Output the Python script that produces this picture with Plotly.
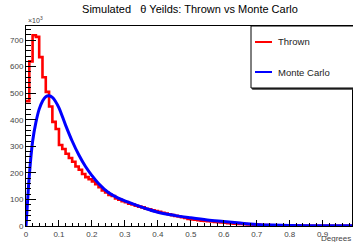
import plotly.graph_objects as go

# ---- data ----
bin_width = 0.01
thrown_counts = [470, 620, 718, 712, 636, 560, 505, 450, 392, 365,
                 305, 290, 272, 256, 242, 224, 212, 196, 184, 176,
                 168, 157, 146, 134, 126, 117, 113, 104, 99, 93,
                 90, 84, 81, 76, 73, 70, 65, 63, 59, 56,
                 53, 50, 47, 44, 41, 38, 36, 33, 30, 27,
                 25, 24, 22, 20, 19, 18, 17, 15, 14, 13,
                 12, 11, 10, 9, 8, 8, 7, 6, 6, 5,
                 5, 4, 4, 4, 3, 3, 3, 3, 2, 2,
                 2, 2, 2, 1, 1, 1, 1, 1, 1, 1,
                 1, 1, 1, 0.5, 0.5, 0.5, 0.5, 0.5, 0.5, 0.5]
mc_x = [0, 0.005, 0.01, 0.02, 0.03, 0.04, 0.05, 0.06, 0.07, 0.08, 0.09, 0.10,
        0.12, 0.14, 0.16, 0.18, 0.20, 0.22, 0.25, 0.28, 0.32, 0.36, 0.40, 0.45,
        0.50, 0.55, 0.60, 0.65, 0.70, 0.75, 0.80, 0.90, 0.99]
mc_y = [0, 97, 190, 318, 390, 440, 470, 487, 490, 484, 468, 445,
        380, 320, 268, 225, 190, 160, 126, 105, 85, 67, 52, 40,
        31, 23, 17, 11, 6, 3.5, 2, 1, 0.5]
x_ticks = [0, 0.1, 0.2, 0.3, 0.4, 0.5, 0.6, 0.7, 0.8, 0.9]
y_ticks = [0, 100, 200, 300, 400, 500, 600, 700]

# step histogram edges
edges = [i * bin_width for i in range(len(thrown_counts) + 1)]
step_y = thrown_counts + [thrown_counts[-1]]

fig = go.Figure()
fig.add_trace(go.Scatter(x=edges, y=step_y, mode="lines", line_shape="hv",
                         line=dict(color="#ff0000", width=2.6), name="Thrown",
                         showlegend=False, hoverinfo="skip"))
fig.add_trace(go.Scatter(x=mc_x, y=mc_y, mode="lines", line_shape="spline",
                         line=dict(color="#0000ff", width=3), name="Monte Carlo",
                         showlegend=False, hoverinfo="skip"))

FONT = "Liberation Sans, Arial, sans-serif"
tickfont = dict(family=FONT, size=8, color="#444")
fig.update_layout(
    width=353, height=242,
    margin=dict(l=26, r=1, t=26, b=16),
    paper_bgcolor="white", plot_bgcolor="white",
    title=dict(text="Simulated   θ Yeilds: Thrown vs Monte Carlo",
               x=190 / 353, xanchor="center", y=1 - 9 / 242, yanchor="middle",
               font=dict(family=FONT, size=11, color="black")),
    xaxis=dict(range=[0, 0.989], tickvals=x_ticks, ticktext=[str(t) for t in x_ticks],
               ticks="inside", ticklen=6, tickcolor="black", tickwidth=1,
               minor=dict(ticks="inside", dtick=0.02, ticklen=3, tickcolor="black"),
               showline=True, linecolor="black", linewidth=1, mirror=True,
               showgrid=False, zeroline=False, tickfont=tickfont),
    yaxis=dict(range=[0, 753], tickvals=y_ticks,
               ticks="inside", ticklen=10, tickcolor="black", tickwidth=1,
               minor=dict(ticks="inside", dtick=20, ticklen=5, tickcolor="black"),
               showline=True, linecolor="black", linewidth=1, mirror=True,
               showgrid=False, zeroline=False, tickfont=tickfont),
)

# x10^3 exponent label and axis title
fig.add_annotation(text="×10<sup>3</sup>", xref="paper", yref="paper", x=0, y=1,
                   xanchor="left", yanchor="bottom", showarrow=False,
                   font=dict(family=FONT, size=7, color="#444"))
fig.add_annotation(text="Degrees", xref="paper", yref="paper", x=1.004, y=-12.5 / 200,
                   xanchor="right", yanchor="middle", showarrow=False,
                   font=dict(family=FONT, size=8, color="#444"))

# legend box (ROOT style)
lx0, lx1 = (251 - 26) / 326, (360 - 26) / 326
ly0, ly1 = (226 - 88) / 200, 1.0
fig.add_shape(type="rect", xref="paper", yref="paper", x0=lx0 + 0.004, x1=lx1, y0=ly0 - 0.006, y1=ly1 - 0.006,
              line=dict(color="#333", width=1), fillcolor="#333", layer="above")
fig.add_shape(type="rect", xref="paper", yref="paper", x0=lx0, x1=lx1, y0=ly0, y1=ly1,
              line=dict(color="black", width=1), fillcolor="white", layer="above")
entries = [("Thrown", "#ff0000", 42), ("Monte Carlo", "#0000ff", 72)]
for label, color, ypx in entries:
    yp = (226 - ypx) / 200
    fig.add_shape(type="line", xref="paper", yref="paper",
                  x0=(255 - 26) / 326, x1=(272 - 26) / 326, y0=yp, y1=yp,
                  line=dict(color=color, width=2), layer="above")
    fig.add_annotation(text=label, xref="paper", yref="paper", x=(276 - 26) / 326, y=yp,
                       xanchor="left", yanchor="middle", showarrow=False,
                       font=dict(family=FONT, size=9.5, color="#222"))

fig.write_html("out.html", config={"displayModeBar": False},
               post_script="document.body.style.margin='0';")
